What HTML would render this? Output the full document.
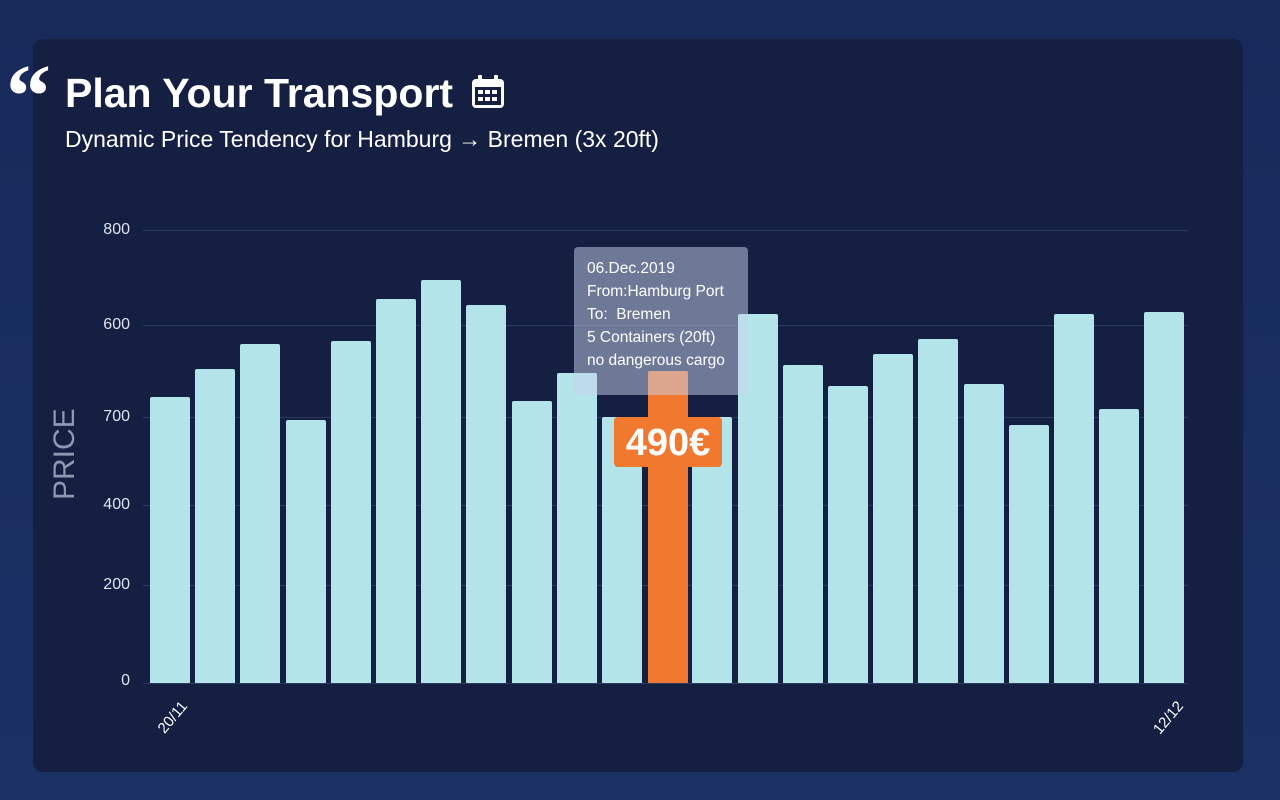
<!DOCTYPE html>
<html><head><meta charset="utf-8"><style>
body{margin:0;width:1280px;height:800px;background:linear-gradient(180deg,#172a5a,#1b3166);font-family:"Liberation Sans",sans-serif;overflow:hidden;position:relative}
.panel{position:absolute;left:33px;top:39px;width:1210px;height:733px;background:#141f42;border-radius:10px}
.t{position:absolute;color:#fff}
.bar{position:absolute;background:#b2e4ea;border-radius:2px 2px 0 0;width:40px}
.grid{position:absolute;left:143px;width:1045px;height:1px;background:#2c3a63}
.yl{position:absolute;right:1150px;color:#dfe3ec;font-size:16px;text-align:right;width:60px}
</style></head><body>
<div class="panel"></div>
<div class="t" style="left:6px;top:52px;font-size:90px;font-family:'Liberation Serif',serif;font-weight:bold;line-height:90px">&ldquo;</div>
<div class="t" style="left:65px;top:70px;font-size:41px;font-weight:bold">Plan Your Transport</div>
<svg style="position:absolute;left:470px;top:74px" width="36" height="36" viewBox="0 0 36 36"><rect x="2" y="5" width="32" height="29" rx="4" fill="#fff"/><rect x="5" y="13" width="26" height="18" fill="#141f42"/><rect x="8" y="1" width="4" height="8" rx="1" fill="#fff"/><rect x="24" y="1" width="4" height="8" rx="1" fill="#fff"/><g fill="#fff"><rect x="8" y="16" width="5" height="4"/><rect x="15" y="16" width="5" height="4"/><rect x="22" y="16" width="5" height="4"/><rect x="8" y="23" width="5" height="4"/><rect x="15" y="23" width="5" height="4"/><rect x="22" y="23" width="5" height="4"/></g></svg>
<div class="t" style="left:65px;top:126px;font-size:23px">Dynamic Price Tendency for Hamburg → Bremen (3x 20ft)</div>
<div class="grid" style="top:230px"></div><div class="grid" style="top:325px"></div><div class="grid" style="top:417px"></div><div class="grid" style="top:505px"></div><div class="grid" style="top:585px"></div><div class="grid" style="top:683px"></div>
<div class="yl" style="top:221px">800</div><div class="yl" style="top:316px">600</div><div class="yl" style="top:408px">700</div><div class="yl" style="top:496px">400</div><div class="yl" style="top:576px">200</div><div class="yl" style="top:672px">0</div>
<div class="t" style="left:30px;top:448px;font-size:30px;color:#8f98b0;transform:rotate(-90deg);transform-origin:center;width:70px;text-align:center">PRICE</div>
<div id="bars"></div>
<div style="position:absolute;left:648px;top:371px;width:40px;height:312px;background:#f0782f;border-radius:2px 2px 0 0"></div>
<div style="position:absolute;left:614px;top:417px;width:108px;height:50px;background:#f0782f;border-radius:4px;color:#fff;font-weight:bold;font-size:38px;text-align:center;line-height:52px">490€</div>
<div style="position:absolute;left:574px;top:247px;width:174px;height:148px;background:rgba(200,210,235,0.5);border-radius:4px"></div>
<div class="t" style="left:587px;top:257px;font-size:15.5px;line-height:23px">06.Dec.2019<br>From:Hamburg Port<br>To:&nbsp; Bremen<br>5 Containers (20ft)<br>no dangerous cargo</div>
<div class="t" style="font-size:15px;transform:rotate(-50deg);transform-origin:right top;width:44px;text-align:right;left:134px;top:698px">20/11</div>
<div class="t" style="font-size:15px;transform:rotate(-50deg);transform-origin:right top;width:44px;text-align:right;left:1130px;top:698px">12/12</div>
<script>
var tops=[397,369,344,420,341,299,280,305,401,373,417,null,417,314,365,386,354,339,384,425,314,409,312];
var h='';
for(var i=0;i<tops.length;i++){if(tops[i]==null)continue;var x=150+i*45.2;h+='<div class="bar" style="left:'+x.toFixed(1)+'px;top:'+tops[i]+'px;height:'+(683-tops[i])+'px"></div>';}
document.getElementById('bars').innerHTML=h;
</script>
</body></html>
